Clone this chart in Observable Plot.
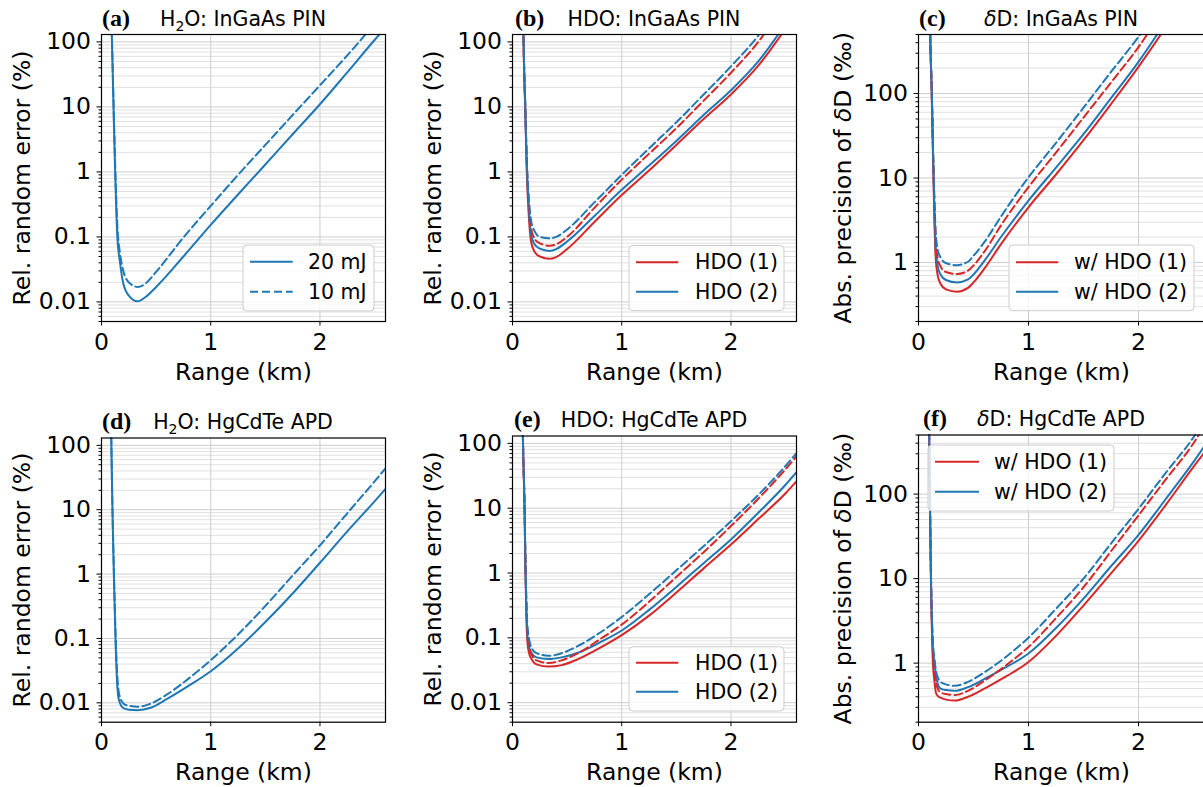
<!DOCTYPE html>
<html>
<head>
<meta charset="utf-8">
<script src="https://cdn.jsdelivr.net/npm/d3@7"></script>
<script src="https://cdn.jsdelivr.net/npm/@observablehq/plot@0.6"></script>
<style>
  html, body { margin: 0; padding: 0; background: #fff; overflow: hidden; }
  #fig { position: relative; width: 1203px; height: 787px; overflow: hidden; background: #fff; }
  .panel { position: absolute; }
  #overlay { position: absolute; left: 0; top: 0; pointer-events: none; }
</style>
</head>
<body>
<div id="fig"></div>
<script>
// ---------- axis ticks ----------
const xTicks = [0, 1, 2];
const xTickLabels = ["0", "1", "2"];
const relTicks = [0.01, 0.1, 1, 10, 100];
const relTickLabels = ["0.01", "0.1", "1", "10", "100"];
const absTicks = [1, 10, 100];
const absTickLabels = ["1", "10", "100"];
const xDomain = [0, 2.6];
const relDomain = [0.005, 130];
const absDomain = [0.2, 500];

// ---------- (a) H2O: InGaAs PIN ----------
const rangeA = [0.09, 0.1, 0.11, 0.125, 0.145, 0.17, 0.2, 0.25, 0.33, 0.4, 0.5, 0.75, 1.0, 1.25, 1.5, 1.75, 2.0, 2.25, 2.5, 2.6];
const a20mJ  = [250, 50, 10, 1, 0.1, 0.04, 0.019, 0.0125, 0.0102, 0.0118, 0.017, 0.05, 0.153, 0.45, 1.3, 3.8, 11, 34, 107, 166];
const a10mJ  = [250, 60, 12, 1.3, 0.15, 0.055, 0.03, 0.02, 0.017, 0.019, 0.029, 0.098, 0.3, 0.9, 2.6, 7.5, 21.5, 62, 190, 300];

// ---------- (b) HDO: InGaAs PIN ----------
const rangeB   = [0.09, 0.1, 0.105, 0.116, 0.131, 0.15, 0.17, 0.2, 0.25, 0.34, 0.4, 0.5, 0.75, 1.0, 1.25, 1.5, 1.75, 2.0, 2.25, 2.5];
const bHDO1    = [1500, 133, 45, 10, 1, 0.2, 0.085, 0.06, 0.05, 0.046, 0.049, 0.065, 0.17, 0.44, 1.05, 2.6, 6.5, 15.5, 43, 160];
const bHDO2    = [1500, 140, 50, 11, 1.2, 0.26, 0.11, 0.078, 0.066, 0.061, 0.065, 0.085, 0.21, 0.53, 1.25, 3.0, 7.5, 18, 50, 190];
const bHDO1low = [1500, 140, 50, 11.5, 1.35, 0.3, 0.14, 0.095, 0.08, 0.073, 0.077, 0.1, 0.28, 0.76, 1.9, 4.7, 12.5, 33.5, 100, 400];
const bHDO2low = [1500, 150, 55, 12.5, 1.5, 0.38, 0.18, 0.125, 0.1, 0.095, 0.1, 0.13, 0.34, 0.9, 2.3, 5.8, 15.5, 42, 125, 500];

// ---------- (c) deltaD: InGaAs PIN ----------
const rangeC   = [0.095, 0.106, 0.12, 0.136, 0.155, 0.175, 0.2, 0.25, 0.35, 0.45, 0.5, 0.6, 0.75, 1.0, 1.25, 1.5, 1.75, 2.0, 2.25, 2.5];
const cHDO1    = [5000, 500, 100, 10, 1.2, 0.7, 0.56, 0.48, 0.45, 0.5, 0.58, 0.85, 1.65, 4.5, 11, 28, 75, 207, 615, 1900];
const cHDO2    = [5000, 520, 110, 12, 1.6, 0.9, 0.72, 0.62, 0.58, 0.63, 0.72, 1.05, 2.0, 5.4, 13.3, 33, 88, 237, 720, 2200];
const cHDO1low = [5000, 540, 115, 13, 2.0, 1.1, 0.9, 0.77, 0.73, 0.8, 0.92, 1.35, 2.75, 7.8, 20, 52, 135, 355, 1100, 3300];
const cHDO2low = [5000, 560, 120, 14, 2.5, 1.4, 1.15, 0.98, 0.93, 1.02, 1.2, 1.75, 3.5, 10.2, 26, 68, 180, 470, 1400, 4200];

// ---------- (d) H2O: HgCdTe APD ----------
const rangeD = [0.085, 0.09, 0.1, 0.113, 0.128, 0.143, 0.16, 0.2, 0.25, 0.33, 0.45, 0.6, 0.8, 1.0, 1.25, 1.5, 1.75, 2.0, 2.25, 2.5, 2.6];
const d20mJ  = [500, 110, 10, 1, 0.1, 0.02, 0.011, 0.0083, 0.0078, 0.0077, 0.0084, 0.0115, 0.0185, 0.031, 0.07, 0.18, 0.5, 1.5, 4.6, 13.5, 21];
const d10mJ  = [500, 120, 12, 1.2, 0.13, 0.03, 0.014, 0.0098, 0.009, 0.0087, 0.0097, 0.0135, 0.024, 0.046, 0.115, 0.32, 0.95, 2.8, 8.8, 27.5, 44];

// ---------- (e) HDO: HgCdTe APD ----------
const rangeE   = [0.09, 0.095, 0.11, 0.119, 0.134, 0.15, 0.175, 0.22, 0.33, 0.45, 0.6, 0.8, 1.0, 1.25, 1.5, 1.75, 2.0, 2.25, 2.5, 2.6];
const eHDO1    = [500, 130, 10, 1, 0.1, 0.06, 0.047, 0.039, 0.036, 0.038, 0.047, 0.07, 0.11, 0.22, 0.5, 1.18, 2.75, 6.8, 17, 26];
const eHDO2    = [500, 130, 11, 1.2, 0.13, 0.075, 0.058, 0.05, 0.047, 0.05, 0.059, 0.085, 0.13, 0.27, 0.61, 1.42, 3.3, 8.5, 23, 36];
const eHDO1low = [500, 130, 11, 1.3, 0.15, 0.08, 0.055, 0.045, 0.041, 0.045, 0.058, 0.095, 0.16, 0.36, 0.87, 2.1, 5.3, 14, 40, 63];
const eHDO2low = [500, 135, 12, 1.5, 0.18, 0.1, 0.07, 0.058, 0.053, 0.058, 0.075, 0.12, 0.21, 0.47, 1.1, 2.6, 6.3, 16, 45, 71];

// ---------- (f) deltaD: HgCdTe APD ----------
const rangeF   = [0.09, 0.097, 0.103, 0.113, 0.131, 0.146, 0.158, 0.175, 0.2, 0.25, 0.33, 0.45, 0.6, 0.8, 1.0, 1.25, 1.5, 1.75, 2.0, 2.25, 2.5, 2.6];
const fHDO1    = [2000, 500, 100, 10, 1, 0.6, 0.45, 0.41, 0.39, 0.37, 0.36, 0.4, 0.5, 0.7, 1.03, 2.1, 4.8, 11.5, 28, 75, 210, 310];
const fHDO2    = [2000, 500, 110, 11, 1.5, 1.0, 0.72, 0.57, 0.5, 0.48, 0.47, 0.52, 0.65, 0.9, 1.3, 2.6, 5.8, 14, 33, 88, 240, 370];
const fHDO1low = [2000, 500, 110, 11, 1.4, 0.8, 0.6, 0.5, 0.45, 0.43, 0.42, 0.47, 0.62, 0.95, 1.55, 3.4, 7.9, 21, 56, 150, 400, 650];
const fHDO2low = [2000, 520, 120, 12, 1.8, 1.1, 0.82, 0.68, 0.6, 0.56, 0.54, 0.6, 0.78, 1.2, 2.0, 4.4, 10, 26, 67, 180, 470, 750];

// ---------- text ----------
const relLabel = "Rel. random error (%)";
const absLabel = "Abs. precision of δD (‰)";
const xLabel = "Range (km)";
const legendH2O = ["20 mJ", "10 mJ"];
const legendHDO = ["HDO (1)", "HDO (2)"];
const legendDD = ["w/ HDO (1)", "w/ HDO (2)"];

// ---------- style ----------
const BLUE = "#1f77b4", RED = "#d62728";
const DASH = "8,4";
const FONT = "'DejaVu Sans', 'Liberation Sans', sans-serif";

function minorTicks(domain) {
  const out = [];
  for (let e = -4; e <= 4; e++) for (let k = 2; k <= 9; k++) {
    const v = k * Math.pow(10, e);
    if (v >= domain[0] * 0.999 && v <= domain[1]) out.push(+v.toPrecision(6));
  }
  return out;
}

const panels = [
  {id: "a", left: 0, top: 0, width: 400, height: 395, fL: 101, fR: 385, fT: 34, fB: 321,
   domain: relDomain, ticks: relTicks, tickLabels: relTickLabels, yLabel: relLabel, labelOffset: 88,
   title: "H<tspan font-size='14' dy='5'>2</tspan><tspan dy='-5'>O: InGaAs PIN</tspan>", tagX: 102,
   series: [{x: rangeA, y: a20mJ, c: BLUE, d: null}, {x: rangeA, y: a10mJ, c: BLUE, d: DASH}],
   legend: {x0: 243, x1: 374, y0: 245, y1: 311, rows: [261.7, 291.7], lx0: 250, lx1: 292.7, tx: 308,
            items: [{t: legendH2O[0], c: BLUE, d: null}, {t: legendH2O[1], c: BLUE, d: DASH}]}},
  {id: "b", left: 400, top: 0, width: 400, height: 395, fL: 512, fR: 796, fT: 34, fB: 321,
   domain: relDomain, ticks: relTicks, tickLabels: relTickLabels, yLabel: relLabel, labelOffset: 88,
   title: "HDO: InGaAs PIN", tagX: 515,
   series: [{x: rangeB, y: bHDO1, c: RED, d: null}, {x: rangeB, y: bHDO2, c: BLUE, d: null},
            {x: rangeB, y: bHDO1low, c: RED, d: DASH}, {x: rangeB, y: bHDO2low, c: BLUE, d: DASH}],
   legend: {x0: 629, x1: 784, y0: 245.5, y1: 310.7, rows: [262.3, 291.7], lx0: 636, lx1: 678.3, tx: 695,
            items: [{t: legendHDO[0], c: RED, d: null}, {t: legendHDO[1], c: BLUE, d: null}]}},
  {id: "c", left: 800, top: 0, width: 404, height: 395, fL: 918, fR: 1204, fT: 34, fB: 321,
   domain: absDomain, ticks: absTicks, tickLabels: absTickLabels, yLabel: absLabel, labelOffset: 84,
   title: "<tspan font-style='italic'>δ</tspan>D: InGaAs PIN", tagX: 919,
   series: [{x: rangeC, y: cHDO1, c: RED, d: null}, {x: rangeC, y: cHDO2, c: BLUE, d: null},
            {x: rangeC, y: cHDO1low, c: RED, d: DASH}, {x: rangeC, y: cHDO2low, c: BLUE, d: DASH}],
   legend: {x0: 1009, x1: 1194, y0: 245, y1: 310.7, rows: [262.3, 291.7], lx0: 1016, lx1: 1058.3, tx: 1074,
            items: [{t: legendDD[0], c: RED, d: null}, {t: legendDD[1], c: BLUE, d: null}]}},
  {id: "d", left: 0, top: 395, width: 400, height: 392, fL: 101, fR: 385, fT: 437.5, fB: 721.7,
   domain: relDomain, ticks: relTicks, tickLabels: relTickLabels, yLabel: relLabel, labelOffset: 88,
   title: "H<tspan font-size='14' dy='5'>2</tspan><tspan dy='-5'>O: HgCdTe APD</tspan>", tagX: 102,
   series: [{x: rangeD, y: d20mJ, c: BLUE, d: null}, {x: rangeD, y: d10mJ, c: BLUE, d: DASH}],
   legend: null},
  {id: "e", left: 400, top: 395, width: 400, height: 392, fL: 512, fR: 796, fT: 435.5, fB: 721.7,
   domain: relDomain, ticks: relTicks, tickLabels: relTickLabels, yLabel: relLabel, labelOffset: 88,
   title: "HDO: HgCdTe APD", tagX: 514,
   series: [{x: rangeE, y: eHDO1, c: RED, d: null}, {x: rangeE, y: eHDO2, c: BLUE, d: null},
            {x: rangeE, y: eHDO1low, c: RED, d: DASH}, {x: rangeE, y: eHDO2low, c: BLUE, d: DASH}],
   legend: {x0: 629, x1: 784, y0: 646.7, y1: 711, rows: [662.7, 691.7], lx0: 636, lx1: 678.3, tx: 695,
            items: [{t: legendHDO[0], c: RED, d: null}, {t: legendHDO[1], c: BLUE, d: null}]}},
  {id: "f", left: 800, top: 395, width: 404, height: 392, fL: 918, fR: 1204, fT: 434.5, fB: 721.7,
   domain: absDomain, ticks: absTicks, tickLabels: absTickLabels, yLabel: absLabel, labelOffset: 84,
   title: "<tspan font-style='italic'>δ</tspan>D: HgCdTe APD", tagX: 923,
   series: [{x: rangeF, y: fHDO1, c: RED, d: null}, {x: rangeF, y: fHDO2, c: BLUE, d: null},
            {x: rangeF, y: fHDO1low, c: RED, d: DASH}, {x: rangeF, y: fHDO2low, c: BLUE, d: DASH}],
   legend: {x0: 928, x1: 1114, y0: 445, y1: 511, rows: [461.7, 491.7], lx0: 935, lx1: 979, tx: 994,
            items: [{t: legendDD[0], c: RED, d: null}, {t: legendDD[1], c: BLUE, d: null}]}}
];

const fig = document.getElementById("fig");

for (const p of panels) {
  const minors = minorTicks(p.domain);
  const labelMap = new Map(p.ticks.map((v, i) => [v, p.tickLabels[i]]));
  const xLabelMap = new Map(xTicks.map((v, i) => [v, xTickLabels[i]]));
  const lineMarks = p.series.map(s =>
    Plot.line(s.x.map((x, i) => ({x, y: s.y[i]})), {
      x: "x", y: "y", stroke: s.c, strokeWidth: 2, curve: "monotone-x", clip: true,
      strokeDasharray: s.d ?? undefined
    })
  );
  const svg = Plot.plot({
    width: p.width,
    height: p.height,
    marginLeft: p.fL - p.left,
    marginRight: p.left + p.width - p.fR,
    marginTop: p.fT - p.top,
    marginBottom: p.top + p.height - p.fB,
    style: `font-family: ${FONT}; font-size: 23.5px; overflow: visible; max-width: none; background: transparent; color: #000;`,
    x: {domain: xDomain},
    y: {type: "log", domain: p.domain},
    marks: [
      Plot.gridY({ticks: minors, stroke: "#e0e0e0", strokeOpacity: 1, strokeWidth: 1}),
      Plot.gridY({ticks: p.ticks, stroke: "#cdcdcd", strokeOpacity: 1, strokeWidth: 1}),
      Plot.gridX({ticks: xTicks, stroke: "#cdcdcd", strokeOpacity: 1, strokeWidth: 1}),
      ...lineMarks,
      Plot.frame({stroke: "#000", strokeWidth: 1.2}),
      Plot.axisY({ticks: minors, tickSize: 2.5, tickFormat: () => "", label: null, strokeWidth: 1}),
      Plot.axisY({ticks: p.ticks, tickSize: 4.5, tickPadding: 6, tickFormat: d => labelMap.get(d),
                  label: p.yLabel, labelAnchor: "center", labelOffset: p.labelOffset, labelArrow: "none"}),
      Plot.axisX({ticks: xTicks, tickSize: 4.5, tickPadding: 7, tickFormat: d => xLabelMap.get(d),
                  label: xLabel, labelAnchor: "center", labelOffset: 58, labelArrow: "none"})
    ]
  });
  // italic delta in the y label of the deltaD panels
  svg.querySelectorAll('[aria-label="y-axis label"] text').forEach(t => {
    if (t.textContent.includes("δ")) {
      t.innerHTML = "Abs. precision of <tspan font-style='italic'>δ</tspan>D (‰)";
    }
  });
  const wrap = document.createElement("div");
  wrap.className = "panel";
  wrap.style.left = p.left + "px";
  wrap.style.top = p.top + "px";
  wrap.appendChild(svg);
  fig.appendChild(wrap);
}

// overlay: panel titles and legends
const ov = d3.select(fig).append("svg").attr("id", "overlay")
  .attr("width", 1203).attr("height", 787);

for (const p of panels) {
  const base = p.fT - 8.5;
  ov.append("text").attr("x", p.tagX).attr("y", base)
    .attr("font-family", "'Liberation Serif', 'Times New Roman', serif")
    .attr("font-weight", "bold").attr("font-size", 24).text(`(${p.id})`);
  ov.append("text").attr("x", (p.fL + p.fR) / 2).attr("y", base)
    .attr("text-anchor", "middle").attr("font-family", FONT).attr("font-size", 20.5)
    .html(p.title);
  if (p.legend) {
    const L = p.legend;
    ov.append("rect").attr("x", L.x0).attr("y", L.y0)
      .attr("width", L.x1 - L.x0).attr("height", L.y1 - L.y0)
      .attr("rx", 4).attr("fill", "#fff").attr("fill-opacity", 0.8)
      .attr("stroke", "#cccccc").attr("stroke-width", 1);
    L.items.forEach((it, i) => {
      ov.append("line").attr("x1", L.lx0).attr("x2", L.lx1)
        .attr("y1", L.rows[i]).attr("y2", L.rows[i])
        .attr("stroke", it.c).attr("stroke-width", 2)
        .attr("stroke-dasharray", it.d);
      ov.append("text").attr("x", L.tx).attr("y", L.rows[i])
        .attr("dominant-baseline", "central")
        .attr("font-family", FONT).attr("font-size", 20.5).text(it.t);
    });
  }
}
</script>
</body>
</html>
